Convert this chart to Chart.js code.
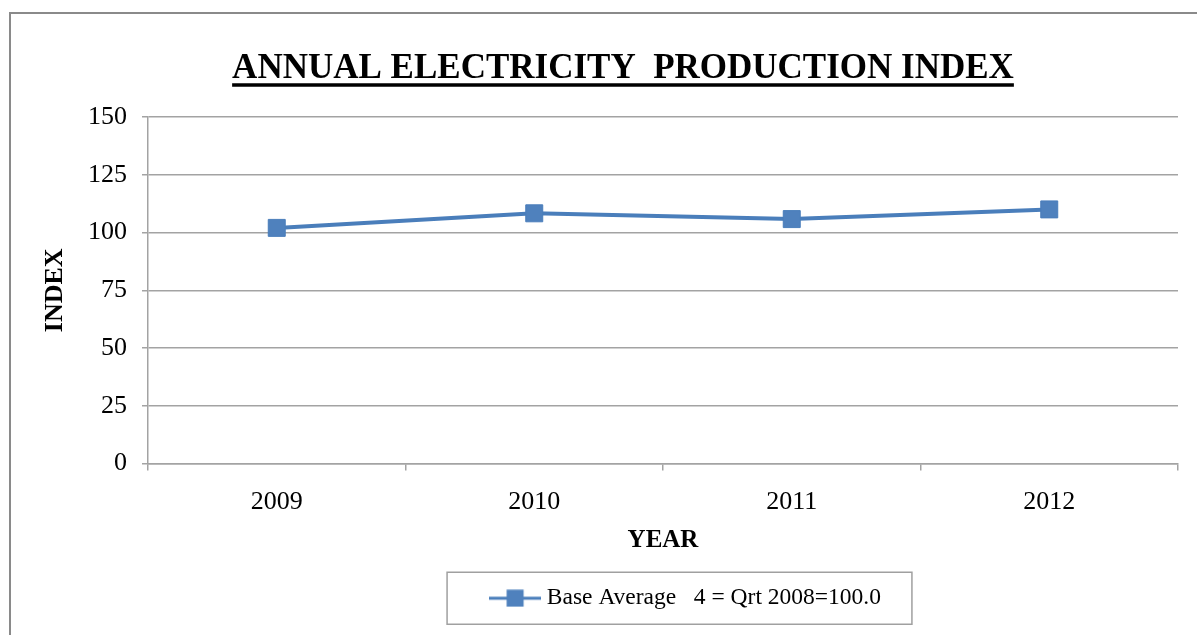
<!DOCTYPE html>
<html>
<head>
<meta charset="utf-8">
<script src="https://cdn.jsdelivr.net/npm/chart.js@4"></script>
<style>
  html, body { margin: 0; padding: 0; background: #fff; overflow: hidden; }
  #wrap { position: relative; width: 1197px; height: 635px; }
  #frame { position: absolute; left: 9px; top: 12px; width: 1300px; height: 700px; border: 2px solid #8a8a8a; }
  canvas { position: absolute; left: 0; top: 0; }
</style>
</head>
<body>
<div id="wrap">
  <div id="frame"></div>
  <canvas id="chart" width="1197" height="635"></canvas>
</div>
<script>
// chart data
var years = ['2009', '2010', '2011', '2012'];
var indexValues = [102.0, 108.3, 105.8, 110.0];
var seriesName = 'Base Average   4 = Qrt 2008=100.0';
var titleText = 'ANNUAL ELECTRICITY  PRODUCTION INDEX';

var serif = '"Liberation Serif", "Times New Roman", serif';
var lineColor = '#4A7EBB';
var markerColor = '#4F81BD';
var gridColor = '#a3a3a3';
var titlePadTop = 48;
var titleOffset = 29;   // title is a bit right of centre in the original
var legendOffset = 94;  // so is the legend

// little line + square image for the legend entry
var legendIcon = document.createElement('canvas');
legendIcon.width = 52;
legendIcon.height = 18;
var ic = legendIcon.getContext('2d');
ic.strokeStyle = lineColor;
ic.lineWidth = 3;
ic.beginPath();
ic.moveTo(0, 9);
ic.lineTo(52, 9);
ic.stroke();
ic.fillStyle = markerColor;
ic.fillRect(17.5, 0.5, 17, 17);

// underline under the title, box shifts and a frame round the legend
var extras = {
  id: 'extras',
  afterLayout: function(chart) {
    var lg = chart.legend;
    if (lg) {
      lg.left += legendOffset;
      lg.right += legendOffset;
    }
    var t = chart.titleBlock;
    if (t) {
      t.left += titleOffset;
      t.right += titleOffset;
    }
  },
  afterDraw: function(chart) {
    var ctx = chart.ctx;
    var t = chart.titleBlock;
    if (t) {
      ctx.save();
      ctx.font = 'bold 35px ' + serif;
      var w = ctx.measureText(titleText).width;
      var cx = (t.left + t.right) / 2;
      var y = t.top + titlePadTop + 21 + 16;
      ctx.strokeStyle = '#000';
      ctx.lineWidth = 3.5;
      ctx.beginPath();
      ctx.moveTo(cx - w / 2, y);
      ctx.lineTo(cx + w / 2, y);
      ctx.stroke();
      ctx.restore();
    }
    var lg = chart.legend;
    if (lg && lg.legendHitBoxes && lg.legendHitBoxes.length) {
      var hb = lg.legendHitBoxes[0];
      var cy = hb.top + hb.height / 2;
      ctx.save();
      ctx.strokeStyle = '#a0a0a0';
      ctx.lineWidth = 1.5;
      ctx.strokeRect(hb.left - 48, cy - 26, hb.width + 79, 52);
      ctx.restore();
    }
  }
};

new Chart(document.getElementById('chart'), {
  type: 'line',
  data: {
    labels: years,
    datasets: [{
      label: seriesName,
      data: indexValues,
      borderColor: lineColor,
      backgroundColor: markerColor,
      borderWidth: 4,
      pointStyle: 'rect',
      pointRadius: 12,
      pointHoverRadius: 12,
      pointBackgroundColor: markerColor,
      pointBorderColor: lineColor,
      pointBorderWidth: 1,
      tension: 0
    }]
  },
  options: {
    responsive: false,
    animation: false,
    layout: { padding: { left: 10, right: 19, top: 0, bottom: 15 } },
    plugins: {
      title: {
        display: true,
        text: titleText,
        color: '#000',
        font: { family: serif, size: 35, weight: 'bold' },
        padding: { top: titlePadTop, bottom: 27 }
      },
      legend: {
        position: 'bottom',
        labels: {
          color: '#000',
          font: { family: serif, size: 23.5 },
          usePointStyle: true,
          pointStyleWidth: 40,
          boxHeight: 18,
          padding: 20,
          generateLabels: function(chart) {
            return [{
              text: seriesName,
              pointStyle: legendIcon,
              fillStyle: markerColor,
              strokeStyle: lineColor,
              lineWidth: 0,
              datasetIndex: 0
            }];
          }
        }
      },
      tooltip: { enabled: false }
    },
    scales: {
      x: {
        offset: true,
        afterFit: function(s) { s.height = 103; },
        grid: {
          offset: true,
          drawOnChartArea: false,
          color: gridColor,
          lineWidth: 1.5,
          tickLength: 7
        },
        border: { color: gridColor, width: 1.5 },
        ticks: {
          color: '#000',
          font: { family: serif, size: 26 },
          padding: 16
        },
        title: {
          display: true,
          text: 'YEAR',
          color: '#000',
          font: { family: serif, size: 25, weight: 'bold' },
          padding: 11
        }
      },
      y: {
        min: 0,
        max: 150,
        afterFit: function(s) { s.width = 138; },
        ticks: {
          stepSize: 25,
          color: '#000',
          font: { family: serif, size: 26 },
          padding: 15
        },
        grid: {
          color: gridColor,
          lineWidth: 1.5,
          tickLength: 6
        },
        border: { color: gridColor, width: 1.5 },
        title: {
          display: true,
          text: 'INDEX',
          color: '#000',
          font: { family: serif, size: 26, weight: 'bold' },
          padding: 30
        }
      }
    }
  },
  plugins: [extras]
});
</script>
</body>
</html>
